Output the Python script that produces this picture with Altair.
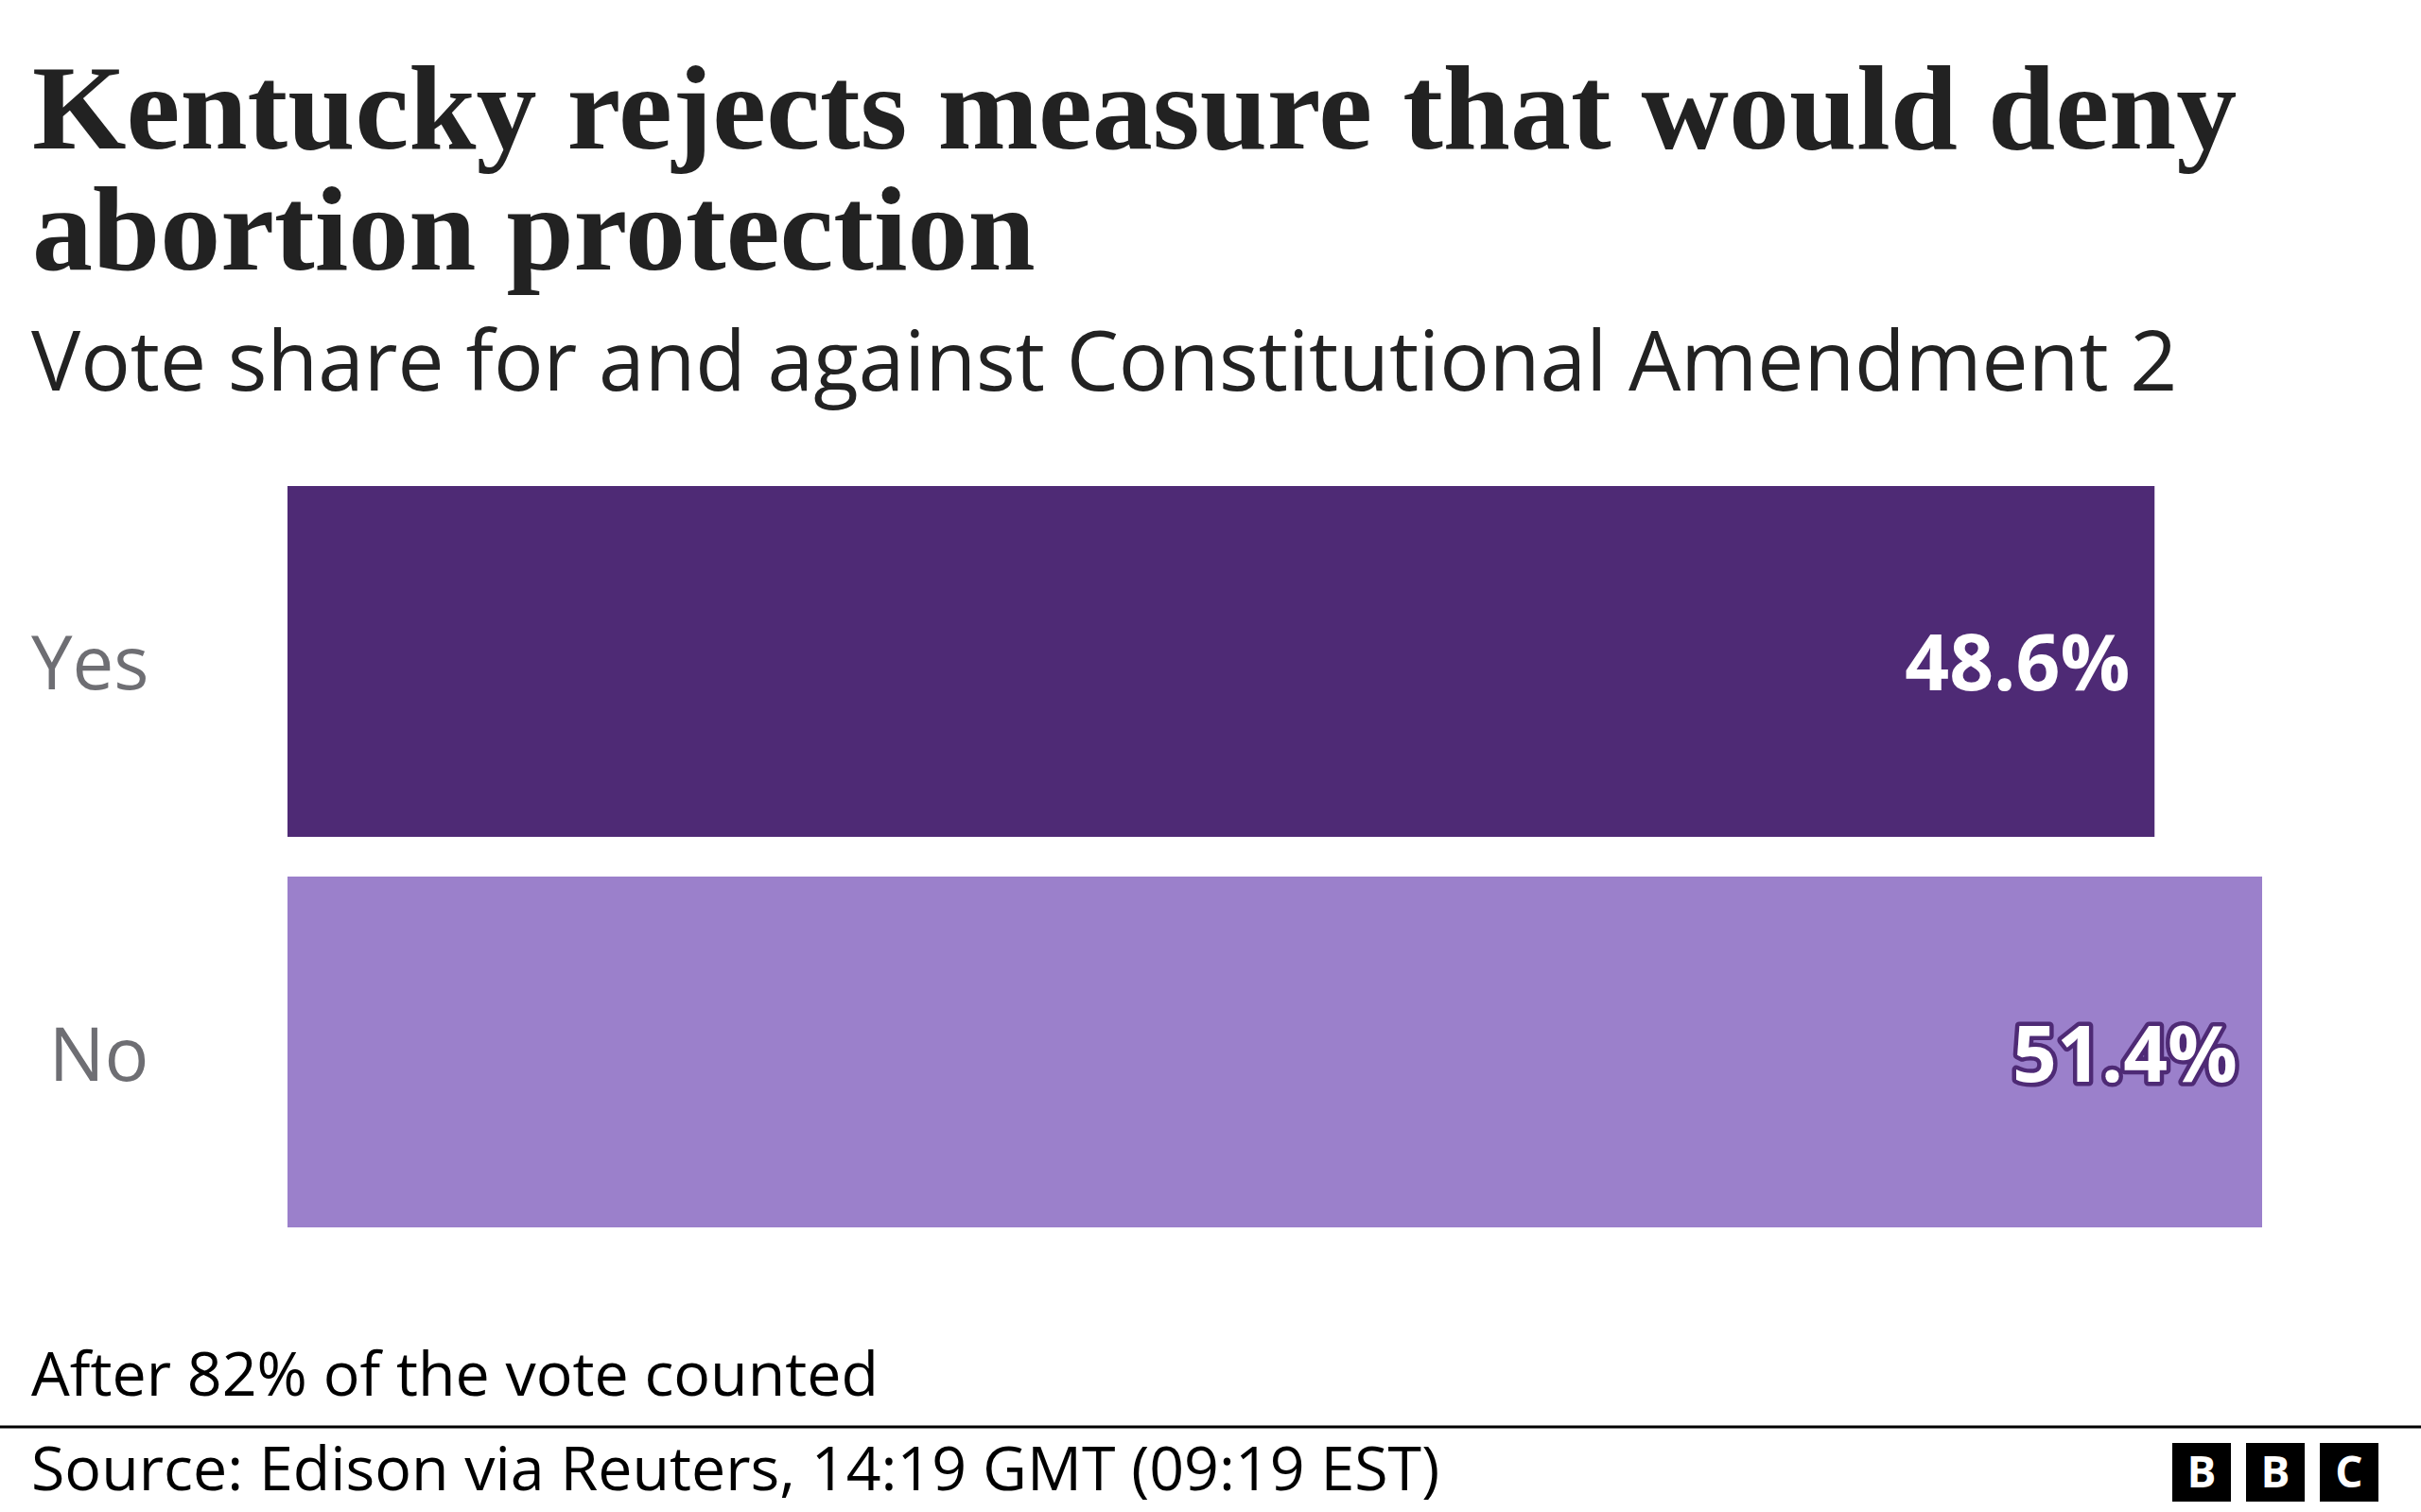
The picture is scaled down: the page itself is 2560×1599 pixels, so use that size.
import altair as alt
import pandas as pd

categories = ["Yes", "No"]
shares = [48.6, 51.4]
labels = ["48.6%", "51.4%"]
bar_colors = ["#4e2a75", "#9b80cb"]

title_lines = ["Kentucky rejects measure that would deny", "abortion protection"]
subtitle = "Vote share for and against Constitutional Amendment 2"
note = "After 82% of the vote counted"
source = "Source: Edison via Reuters, 14:19 GMT (09:19 EST)"
logo_letters = ["B", "B", "C"]

df = pd.DataFrame({"answer": categories, "share": shares, "label": labels})

W, H = 2088, 784
LEFT, TOP = 304, 514
SANS = "Open Sans"
SERIF = "Liberation Serif"

y_enc = alt.Y(
    "answer:N",
    sort=categories,
    scale=alt.Scale(paddingInner=0.1017, paddingOuter=0),
    axis=alt.Axis(title=None, domain=False, ticks=False, labelFont=SANS,
                  labelFontSize=78, labelColor="#6e6e73", labelPadding=147,
                  labelOffset=7),
)
x_enc = alt.X("share:Q", scale=alt.Scale(domain=[0, 51.4], nice=False, zero=True), axis=None)

base = alt.Chart(df)
bars = base.mark_bar().encode(
    x=x_enc, y=y_enc,
    color=alt.Color("answer:N", scale=alt.Scale(domain=categories, range=bar_colors), legend=None),
)

outline = base.transform_filter(alt.datum.answer == "No").mark_text(
    align="right", baseline="middle", dx=-26, dy=6, font=SANS, fontWeight="bold",
    fontSize=82, fill="#4e2a75", stroke="#4e2a75", strokeWidth=9, strokeJoin="round",
).encode(x=x_enc, y=y_enc, text="label:N")

values = base.mark_text(
    align="right", baseline="middle", dx=-26, dy=6, font=SANS, fontWeight="bold",
    fontSize=82, color="white",
).encode(x=x_enc, y=y_enc, text="label:N")


def txt(s, x, y, size, weight="normal", font=SANS, color="#222222", align="left"):
    return alt.Chart(pd.DataFrame({"t": [s]})).mark_text(
        align=align, baseline="alphabetic", font=font, fontSize=size,
        fontWeight=weight, color=color,
    ).encode(x=alt.value(x), y=alt.value(y), text="t:N")


layers = [bars, outline, values]
layers.append(txt(title_lines[0], -270, -357, 128, "bold", SERIF))
layers.append(txt(title_lines[1], -270, -229, 128, "bold", SERIF))
layers.append(txt(subtitle, -271, -101, 87.5))
layers.append(txt(note, -271, 962, 64.5, color="#000000"))
layers.append(txt(source, -271, 1062, 64.5, color="#000000"))

rule = alt.Chart(pd.DataFrame({"a": [0]})).mark_rule(color="#000000", strokeWidth=3).encode(
    x=alt.value(-LEFT), x2=alt.value(2560 - LEFT), y=alt.value(995)
)
layers.append(rule)

for i, letter in enumerate(logo_letters):
    x0 = 1993 + 78 * i
    sq = alt.Chart(pd.DataFrame({"l": [letter]})).mark_rect(color="#000000").encode(
        x=alt.value(x0), x2=alt.value(x0 + 62), y=alt.value(1012), y2=alt.value(1074)
    )
    lt = alt.Chart(pd.DataFrame({"l": [letter]})).mark_text(
        align="center", baseline="middle", font=SANS, fontWeight="bold", fontSize=46, color="white", dy=2
    ).encode(x=alt.value(x0 + 31), y=alt.value(1043), text="l:N")
    layers += [sq, lt]

chart = alt.layer(*layers).properties(
    width=W, height=H,
    padding={"left": LEFT, "top": TOP, "right": 2560 - LEFT - W, "bottom": 1599 - TOP - H},
    autosize=alt.AutoSizeParams(type="none"),
    background="white",
).configure_view(stroke=None)

chart.save("out.html", embed_options={"renderer": "svg", "actions": False})
